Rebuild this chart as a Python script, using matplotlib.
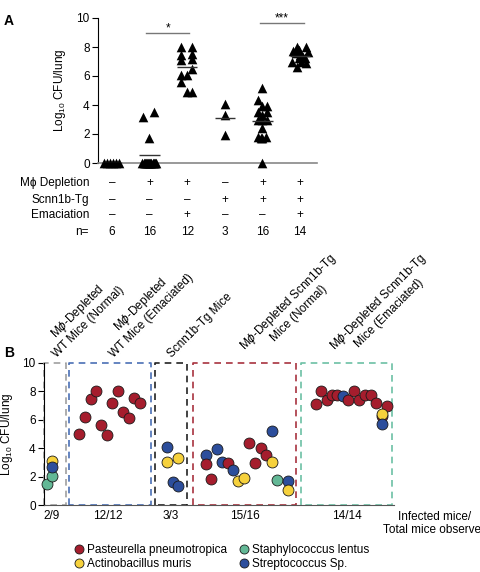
import numpy as np
import matplotlib
matplotlib.use("Agg")
import matplotlib.pyplot as plt
from matplotlib.lines import Line2D
from matplotlib.transforms import blended_transform_factory

plt.rcParams['font.family'] = ['Liberation Sans', 'DejaVu Sans']
plt.rcParams['mathtext.fontset'] = 'custom'
plt.rcParams['mathtext.rm'] = 'Liberation Sans'
plt.rcParams['mathtext.it'] = 'DejaVu Sans:italic'
plt.rcParams['font.size'] = 8.5

# ---------------- Panel A data ----------------
a_centers = [1, 2, 3, 4, 5, 6]
a_vals = [
    [0, 0, 0, 0, 0, 0],
    [3.2, 3.5, 1.7, 0, 0, 0, 0, 0, 0, 0, 0, 0, 0, 0, 0, 0],
    [8.0, 7.45, 7.1, 8.0, 7.5, 7.2, 6.5, 6.1, 6.1, 5.6, 4.9, 4.9],
    [4.1, 3.3, 1.9],
    [5.15, 4.35, 3.93, 3.93, 3.54, 3.54, 3.31, 2.97, 2.97, 2.97, 2.39, 1.82, 1.82, 1.7, 1.7, 0],
    [8.0, 8.0, 7.7, 7.78, 7.63, 7.56, 7.45, 7.33, 7.22, 7.22, 6.99, 6.87, 6.99, 6.64],
]
a_jitter = [
    [-0.21, -0.13, -0.05, 0.03, 0.11, 0.19],
    [-0.18, 0.11, -0.02, -0.19, -0.16, -0.13, -0.10, -0.07, -0.04, -0.01, 0.02, 0.05, 0.08, 0.11, 0.14, 0.17],
    [-0.16, -0.16, -0.16, 0.14, 0.14, 0.14, 0.14, -0.16, 0.0, -0.16, 0.0, 0.14],
    [0, 0, 0],
    [0.0, -0.11, 0.0, 0.12, -0.11, 0.12, 0.0, -0.11, 0.0, 0.12, 0.0, -0.11, 0.10, 0.0, -0.05, 0.0],
    [-0.09, 0.15, -0.18, -0.04, 0.20, -0.11, 0.0, 0.09, -0.04, 0.13, -0.21, 0.15, 0.03, -0.09],
]
row_labels = ['M\u03d5 Depletion', 'Scnn1b-Tg', 'Emaciation', 'n=']
depletion = ['\u2013', '+', '+', '\u2013', '+', '+']
scnn1b_tg = ['\u2013', '\u2013', '\u2013', '+', '+', '+']
emaciation = ['\u2013', '\u2013', '+', '\u2013', '\u2013', '+']

# ---------------- Panel B data ----------------
species = ['Pasteurella pneumotropica', 'Actinobacillus muris',
           'Staphylococcus lentus', 'Streptococcus Sp.']
sp_colors = {'P': '#a51d2d', 'A': '#f6d13c', 'S': '#63b896', 'St': '#2c4e9c'}
b_x = [0.3, 0.8, 0.8, 0.8,
       3.53, 4.1, 4.67, 5.23, 5.73, 6.3, 6.83, 7.37, 7.93, 8.5, 9.03, 9.6,
       12.33, 12.3, 13.43, 12.87, 13.43,
       16.17, 16.17, 16.73, 17.27, 17.8, 18.37, 18.93, 19.43, 20.0, 20.53, 21.13,
       21.67, 22.23, 22.77, 22.77, 23.33, 24.37, 24.37,
       27.17, 27.7, 28.27, 28.8, 29.33, 29.87, 30.43, 31.0, 31.53, 32.1, 32.67,
       33.2, 34.27, 33.77, 33.77, 33.77]
b_y = [1.5, 2.05, 3.1, 2.65,
       5.0, 6.15, 7.44, 8.0, 5.63, 4.95, 7.16, 8.0, 6.55, 6.08, 7.49, 7.18,
       4.1, 3.0, 3.3, 1.62, 1.31,
       3.5, 2.91, 1.83, 3.97, 3.05, 2.98, 2.46, 1.69, 1.88, 4.34, 2.98,
       3.99, 3.48, 5.21, 3.0, 1.76, 1.69, 1.03,
       7.09, 8.03, 7.35, 7.75, 7.75, 7.63, 7.35, 8.03, 7.35, 7.75, 7.75,
       7.16, 6.93, 6.22, 6.41, 5.68]
b_sp = ['S', 'S', 'A', 'St',
        'P', 'P', 'P', 'P', 'P', 'P', 'P', 'P', 'P', 'P', 'P', 'P',
        'St', 'A', 'A', 'St', 'St',
        'St', 'P', 'P', 'St', 'St', 'P', 'St', 'A', 'A', 'P', 'P',
        'P', 'P', 'St', 'A', 'S', 'St', 'A',
        'P', 'P', 'P', 'P', 'P', 'St', 'P', 'P', 'P', 'P', 'P',
        'P', 'P', 'P', 'A', 'St']
group_names = ['M$\\phi$-Depleted\nWT Mice (Normal)',
               'M$\\phi$-Depleted\nWT Mice (Emaciated)',
               'Scnn1b-Tg Mice',
               'M$\\phi$-Depleted Scnn1b-Tg\nMice (Normal)',
               'M$\\phi$-Depleted Scnn1b-Tg\nMice (Emaciated)']
ratio_labels = ['2/9', '12/12', '3/3', '15/16', '14/14']
box_lo = [0.0, 2.5, 11.1, 14.9, 25.7]
box_hi = [2.2, 10.7, 14.3, 25.2, 34.8]
box_colors = ['#a0a0a0', '#4a6fb5', '#222222', '#a8323e', '#6cc0a4']

fig = plt.figure(figsize=(4.81, 5.72), dpi=100)

# ---------------- Panel A ----------------
axA = fig.add_axes([98/481, 409/572, 219/481, 145/572])
for c, vals, jit in zip(a_centers, a_vals, a_jitter):
    xs = c + np.array(jit)
    axA.scatter(xs, vals, marker='^', s=48, color='black', linewidths=0,
                clip_on=False, zorder=3)
    m = np.mean(vals)
    axA.hlines(m, c - 0.27, c + 0.27, color='#333333', lw=1.0, zorder=4)
axA.set_xlim(0.63, 6.45)
axA.set_ylim(0, 10)
axA.set_yticks([0, 2, 4, 6, 8, 10])
axA.set_xticks([])
axA.spines['top'].set_visible(False)
axA.spines['right'].set_visible(False)
axA.spines['left'].set_linewidth(0.8)
axA.spines['bottom'].set_color('#888888')
axA.spines['bottom'].set_linewidth(1.2)
axA.tick_params(axis='y', length=4, width=0.8, pad=2, labelsize=8.5)
axA.set_ylabel('Log$_{10}$ CFU/lung', fontsize=8.5, labelpad=6)

# significance brackets
axA.plot([1.9, 3.05], [8.97, 8.97], color='#777777', lw=1, clip_on=False)
axA.text(2.48, 9.3, '*', ha='center', va='center', fontsize=8.5)
axA.plot([4.93, 6.1], [9.63, 9.63], color='#777777', lw=1, clip_on=False)
axA.text(5.5, 10.0, '***', ha='center', va='center', fontsize=8.5)

# table
trA = blended_transform_factory(axA.transData, axA.transAxes)
rows_y = [-0.138, -0.255, -0.359, -0.476]
n_vals = [str(len(v)) for v in a_vals]
for ry, lab, row in zip(rows_y, row_labels, [depletion, scnn1b_tg, emaciation, n_vals]):
    axA.text(-0.041, ry, lab, transform=axA.transAxes, ha='right', va='center', fontsize=8.5)
    for c, s in zip(a_centers, row):
        axA.text(c, ry, s, transform=trA, ha='center', va='center', fontsize=8.5)

fig.text(4/481, 1 - 21/572, 'A', fontsize=10, fontweight='bold', va='center')

# ---------------- Panel B ----------------
axB = fig.add_axes([44/481, 67/572, 350/481, 142.3/572])
for lo, hi, col in zip(box_lo, box_hi, box_colors):
    axB.plot([lo, lo, hi, hi, lo], [0, 10, 10, 0, 0], color=col, lw=1.2,
             ls=(0, (4, 3)), clip_on=False, zorder=2)
for x, y, s in zip(b_x, b_y, b_sp):
    axB.scatter([x], [y], s=62, color=sp_colors[s], edgecolors='#1a1a1a',
                linewidths=0.6, zorder=5, clip_on=False)
axB.set_xlim(0, 35)
axB.set_ylim(0, 10)
axB.set_yticks([0, 2, 4, 6, 8, 10])
axB.set_xticks([])
axB.spines['top'].set_visible(False)
axB.spines['right'].set_visible(False)
axB.spines['left'].set_linewidth(0.8)
axB.spines['bottom'].set_linewidth(0.8)
axB.spines['bottom'].set_color('#555555')
axB.tick_params(axis='y', length=4, width=0.8, pad=2, labelsize=8.5)
axB.set_ylabel('Log$_{10}$ CFU/lung', fontsize=8.5, labelpad=5)

trB = blended_transform_factory(axB.transData, axB.transAxes)
label_x = [1.5, 7.2, 13.0, 21.3, 30.3]
label_y = [1.02, 1.02, 1.02, 0.995, 0.995]
for lx, ly, name in zip(label_x, label_y, group_names):
    axB.text(lx, ly, name, transform=trB, rotation=45, rotation_mode='anchor',
             ha='left', va='bottom', multialignment='center', fontsize=8.5,
             linespacing=1.1)
ratio_x = [0.8, 6.4, 12.7, 20.1, 30.3]
for rx, r in zip(ratio_x, ratio_labels):
    axB.text(rx, -0.077, r, transform=trB, ha='center', va='center', fontsize=8.5)
axB.text(39.1, -0.04, 'Infected mice/\nTotal mice observed', transform=trB,
         ha='center', va='top', multialignment='center', fontsize=8.5,
         linespacing=1.15)

fig.text(4/481, 1 - 353/572, 'B', fontsize=10, fontweight='bold', va='center')

handles = [Line2D([], [], marker='o', ls='', markersize=6.5,
                  markerfacecolor=sp_colors[k], markeredgecolor='#1a1a1a',
                  markeredgewidth=0.6) for k in ['P', 'A', 'S', 'St']]
fig.legend(handles, species, ncol=2, loc='upper left',
           bbox_to_anchor=(72/481, 1 - 544.5/572), frameon=False,
           handletextpad=0.1, columnspacing=0.8, handlelength=1.2,
           labelspacing=0.1, borderaxespad=0, borderpad=0, fontsize=8.5)

fig.savefig('out.png', dpi=100)
